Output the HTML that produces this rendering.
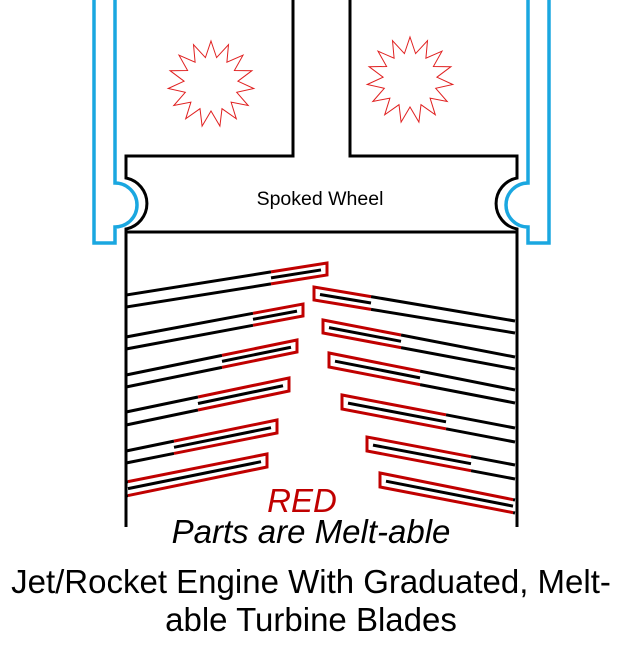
<!DOCTYPE html>
<html><head><style>html,body{margin:0;padding:0;background:#fff;}svg{display:block}</style></head>
<body>
<svg id="s" width="623" height="646" viewBox="0 0 623 646" xmlns="http://www.w3.org/2000/svg" font-family="Liberation Sans, Arial, sans-serif">
<path d="M94,0 V243 H115 V227 A22,22 0 0 0 115,183 V0" fill="none" stroke="#1aa7e0" stroke-width="3.5"/>
<path d="M549,0 V243 H528 V227 A22,22 0 0 1 528,183 V0" fill="none" stroke="#1aa7e0" stroke-width="3.5"/>
<path d="M293,0 V156 H126 V178 A26,26 0 0 1 126,229 V527" fill="none" stroke="#000" stroke-width="3"/>
<path d="M350,0 V156 H517 V178 A26,26 0 0 0 517,229 V527" fill="none" stroke="#000" stroke-width="3"/>
<line x1="126" y1="232" x2="517" y2="232" stroke="#000" stroke-width="3"/>
<text x="320" y="205" font-size="19.5" text-anchor="middle">Spoked Wheel</text>
<g id="stars" fill="none" stroke="#e02020" stroke-width="1"></g>
<g id="blades"></g>
<text x="302" y="512" font-size="33" font-style="italic" fill="#c00000" text-anchor="middle">RED</text>
<text x="311" y="543" font-size="33" font-style="italic" text-anchor="middle">Parts are Melt-able</text>
<text x="311" y="593" font-size="33" text-anchor="middle">Jet/Rocket Engine With Graduated, Melt-</text>
<text x="311" y="631" font-size="33" text-anchor="middle">able Turbine Blades</text>
</svg>
<script>
var NS="http://www.w3.org/2000/svg";
function el(p,t,a){var e=document.createElementNS(NS,t);for(var k in a)e.setAttribute(k,a[k]);p.appendChild(e);return e;}
var st=document.getElementById('stars');
[[211,84],[410,80]].forEach(function(c){var pts=[],n=15;for(var i=0;i<2*n;i++){var r=i%2?27:43,a=-Math.PI/2+i*Math.PI/n;pts.push((c[0]+r*Math.cos(a)).toFixed(1)+','+(c[1]+r*Math.sin(a)).toFixed(1));}el(st,'polygon',{points:pts.join(' ')});});
var g=document.getElementById('blades');
function blade(wx,wt,wb,rx,tx,tt,tb){
 function yt(x){return wt+(tt-wt)*(x-wx)/(tx-wx);}
 function yb(x){return wb+(tb-wb)*(x-wx)/(tx-wx);}
 el(g,'line',{x1:wx,y1:wt,x2:rx,y2:yt(rx),stroke:'#000','stroke-width':3});
 el(g,'line',{x1:wx,y1:wb,x2:rx,y2:yb(rx),stroke:'#000','stroke-width':3});
 el(g,'polyline',{points:rx+','+yt(rx)+' '+tx+','+tt+' '+tx+','+tb+' '+rx+','+yb(rx),fill:'none',stroke:'#c00000','stroke-width':3});
 var d=tx>wx?-6:6, x1=rx, x2=tx+d;
 el(g,'line',{x1:x1,y1:(yt(x1)+yb(x1))/2,x2:x2,y2:(yt(x2)+yb(x2))/2,stroke:'#000','stroke-width':3});
}
[[295,307,271,327,263,275],[337,349,253,303,304,316],[375,387,222,297,340,352],[412,425,198,289,378,391],[451,463,174,277,420,433],[482,496,128,267,454,467]].forEach(function(b){blade(126,b[0],b[1],b[2],b[3],b[4],b[5]);});
[[321,333,371,314,287,300],[357,369,401,323,320,333],[390,403,420,329,353,367],[428,442,446,342,395,409],[465,479,471,367,437,451],[500,513,513,380,473,487]].forEach(function(b){blade(515,b[0],b[1],b[2],b[3],b[4],b[5]);});
</script>
</body></html>
